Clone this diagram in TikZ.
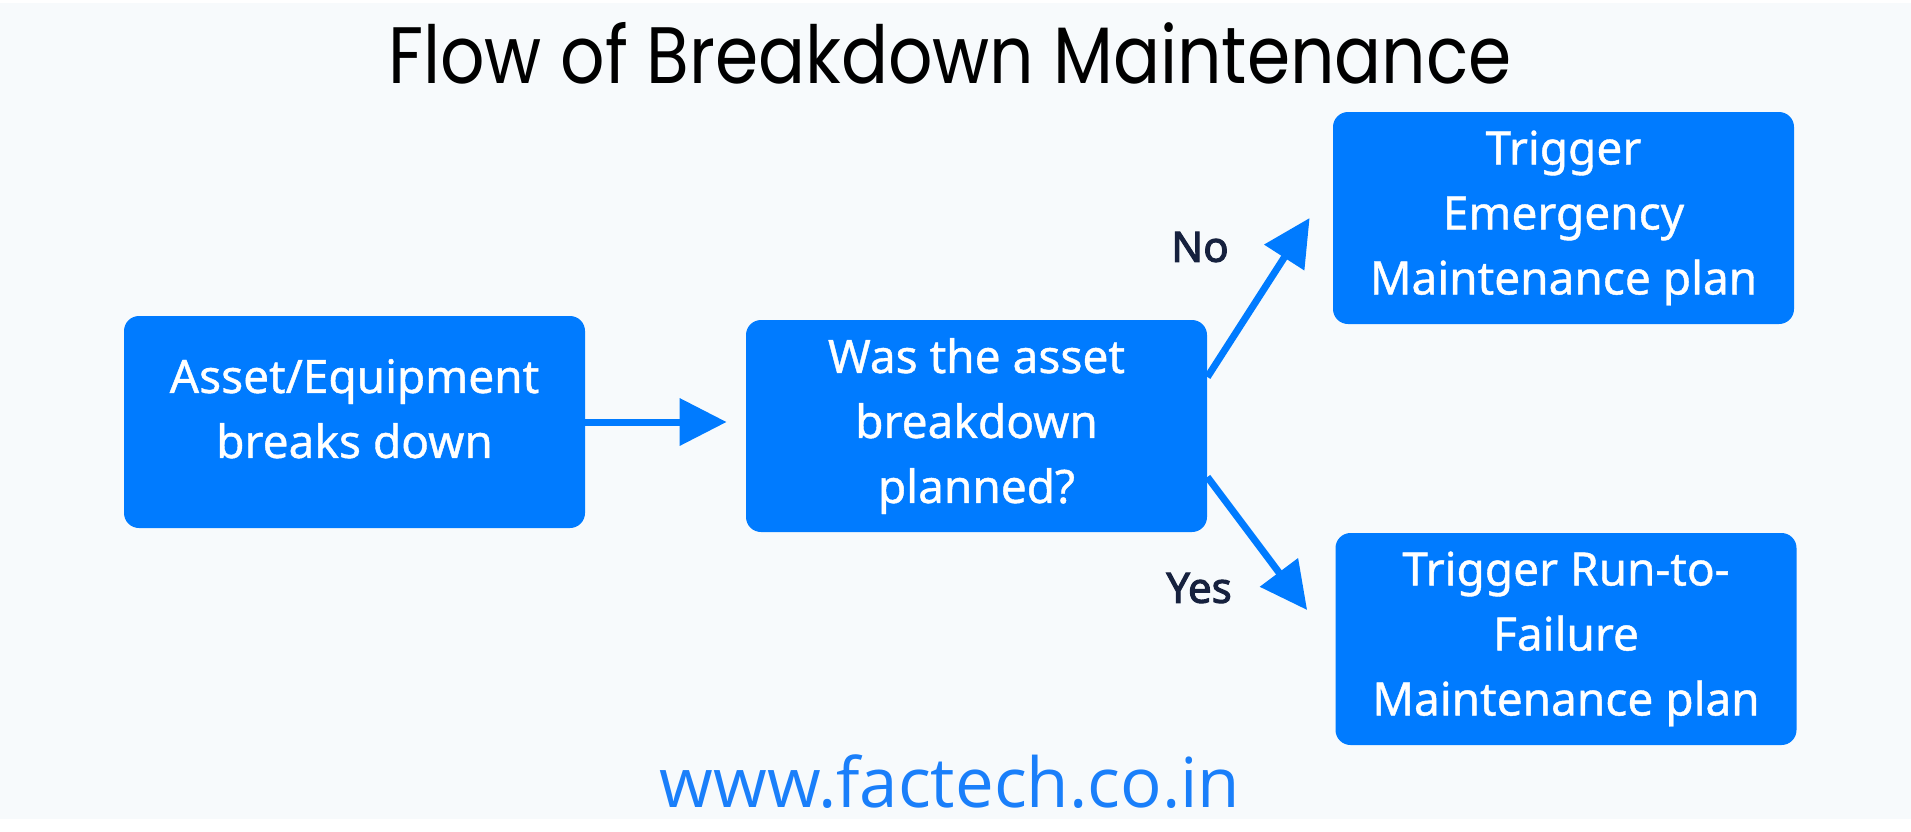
\documentclass[tikz,border=0pt]{standalone}
\usepackage{fontspec}
\usepackage{tikz}
\usetikzlibrary{arrows.meta}
\setmainfont{Noto Sans}
\newfontfamily\boxfont{Noto Sans}[FakeBold=0.9]
\newfontfamily\answerfont{Noto Sans}[FakeBold=2.4]
\newfontfamily\titlefont{Poppins}[FakeStretch=0.87]
\newfontfamily\urlfont{Open Sans}
\definecolor{bgcol}{HTML}{F7FAFC}
\definecolor{boxblue}{HTML}{007BFF}
\definecolor{urlblue}{HTML}{1A7FFA}
\definecolor{navy}{HTML}{16213E}

\begin{document}
\begin{tikzpicture}[x=0.5pt,y=-0.5pt,
  stepbox/.style={fill=boxblue,text=white,rounded corners=7.5pt,minimum width=230.5pt,minimum height=106pt,inner sep=0pt,align=center,font=\boxfont\fontsize{23}{32.5}\selectfont},
  flow/.style={boxblue,line width=3.5pt,-{Triangle[length=23.5pt,width=23pt]}},
  answer/.style={text=navy,font=\answerfont\fontsize{21}{25}\selectfont}]
  \useasboundingbox (0,0) rectangle (1911,831);
  \fill[bgcol] (0,3) rectangle (1911,819);
  \node[anchor=base,font=\titlefont\fontsize{40}{48}\selectfont] (title) at (950,83) {Flow of Breakdown Maintenance};
  \node[stepbox,text depth=13.5pt] (fail) at (354.5,422) {Asset/Equipment\\breaks down};
  \node[stepbox] (check) at (976.5,426) {Was the asset\\breakdown\\planned?};
  \node[stepbox] (emerg) at (1563.5,218) {Trigger\\Emergency\\Maintenance plan};
  \node[stepbox] (rtf) at (1566,639) {Trigger Run-to-\\Failure\\Maintenance plan};
  \draw[flow,shorten >=9.5pt] (fail.east) -- (fail.east -| check.west);
  \draw[flow] ([yshift=24.5pt]check.east) -- ([xshift=-11.5pt]emerg.west);
  \draw[flow] ([yshift=-25.5pt]check.east) -- ([xshift=-14pt,yshift=14.5pt]rtf.west);
  \node[answer] (no) at (1200,247) {No};
  \node[answer] (yes) at (1199,588) {Yes};
  \node[anchor=base,text=urlblue,font=\urlfont\fontsize{34.5}{40}\selectfont] (url) at (950,807) {www.factech.co.in};
\end{tikzpicture}
\end{document}
